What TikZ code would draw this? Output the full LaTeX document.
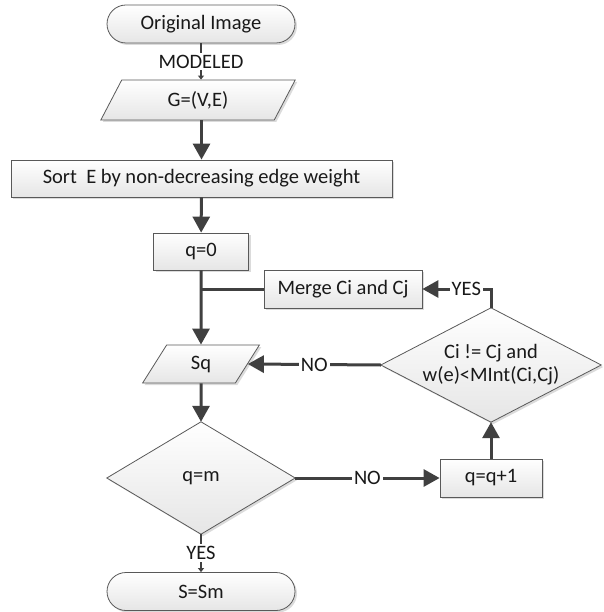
\documentclass[tikz,border=0pt]{standalone}
\usepackage{fontspec}
\setmainfont{Carlito}
\usetikzlibrary{arrows.meta,shapes.geometric,shadows}

\begin{document}
\begin{tikzpicture}[x=1pt,y=-1pt,
  txt/.style={text=black!90, font=\fontsize{20.5}{23}\selectfont},
  skin/.style={draw=black!65, line width=0.8pt, top color=white, bottom color=black!10,
    drop shadow={shadow xshift=2pt,shadow yshift=-2pt,opacity=0.35,fill=black!40}},
  box/.style={skin, txt, inner sep=0pt},
  proc/.style={box, rectangle},
  term/.style={box, rectangle, rounded corners=19pt},
  io/.style={box, trapezium, trapezium stretches=true,
    trapezium left angle=65, trapezium right angle=115},
  frame/.style={rectangle, inner sep=0pt},
  flow/.style={draw=black!75, line width=3pt, -{Triangle[length=16pt,width=17pt]}},
  link/.style={draw=black!75, line width=3pt},
  thinflow/.style={draw=black!75, line width=1.5pt, -{Triangle[length=4pt,width=6pt]}},
  lbl/.style={txt, fill=white, inner sep=2pt},
]
\useasboundingbox (0,0) rectangle (603,612);

% nodes of the flow chart
\node[term, minimum width=188, minimum height=38] (orig) at (201,24) {Original Image};
\node[io, minimum width=195, minimum height=40] (g) at (198,100) {G=(V,E)};
\node[proc, minimum width=381, minimum height=37] (sort) at (201.5,178.5) {Sort\ \ E by non-decreasing edge weight};
\node[proc, minimum width=95, minimum height=37] (q0) at (201,251.5) {q=0};
\node[proc, minimum width=158, minimum height=38] (merge) at (343,289) {Merge Ci and Cj};
\node[io, minimum width=117, minimum height=38,
  trapezium left angle=67, trapezium right angle=113] (sq) at (201,364) {Sq};
\node[proc, minimum width=102, minimum height=38] (inc) at (491,478) {q=q+1};
\node[term, minimum width=188, minimum height=38] (end) at (201,591.5) {S=Sm};

% decisions: a frame node gives the corners, the rhombus is drawn through them
\node[frame, minimum width=220, minimum height=114] (cond) at (491,365) {};
\path[skin] (cond.north) -- (cond.east) -- (cond.south) -- (cond.west) -- cycle;
\node[txt, align=center, inner sep=0pt] (condtext) at (cond.center) {Ci != Cj and\\w(e)<MInt(Ci,Cj)};

\node[frame, minimum width=188, minimum height=112] (qm) at (201,478) {};
\path[skin] (qm.north) -- (qm.east) -- (qm.south) -- (qm.west) -- cycle;
\node[txt, inner sep=0pt] (qmtext) at (qm.center) {q=m};

% connectors
\coordinate (gtop) at (g.north -| orig.south);
\draw[thinflow] (orig) -- node[lbl]{MODELED} (gtop);
\coordinate (gbot) at (g.south -| sort.north);
\draw[flow] (gbot) -- (sort);
\draw[flow] (sort) -- (q0);
\draw[flow] (q0) -- (sq);
\coordinate (j) at (q0.south |- merge.west);
\draw[link] (merge.west) -- (j);
\draw[flow] (cond.west) -- node[lbl]{NO} (sq.east);
\draw[flow] (cond.north) |- node[lbl, pos=0.68]{YES} (merge.east);
\draw[flow] (sq) -- (qm.north);
\draw[flow] (qm.east) -- node[lbl]{NO} (inc.west);
\draw[flow] (inc) -- (cond.south);
\draw[thinflow] (qm.south) -- node[lbl]{YES} (end);
\end{tikzpicture}
\end{document}
